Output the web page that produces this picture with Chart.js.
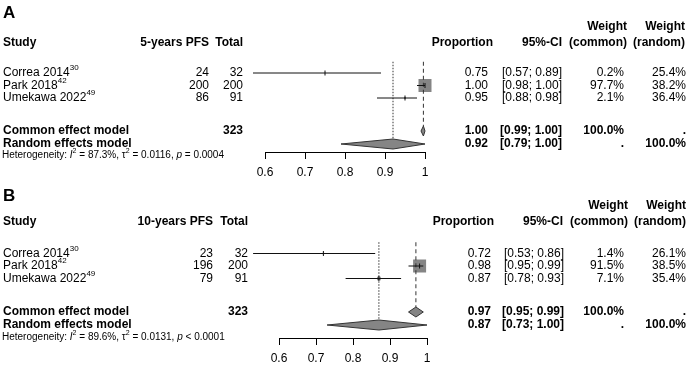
<!DOCTYPE html>
<html>
<head>
<meta charset="utf-8">
<script src="https://cdn.jsdelivr.net/npm/chart.js@4.4.1/dist/chart.umd.min.js"></script>
<style>
  body { margin: 0; background: #fff; }
  canvas { position: absolute; left: 0; }
  #chartA { top: 0; }
  #chartB { top: 183px; }
</style>
</head>
<body>
<canvas id="chartA" width="688" height="183"></canvas>
<canvas id="chartB" width="688" height="183"></canvas>
<script>
// study level data
const studyNames = ["Correa 2014", "Park 2018", "Umekawa 2022"];
const studyRefs = ["30", "42", "49"];
const totals = [32, 200, 91];
const xTicks = [0.6, 0.7, 0.8, 0.9, 1];

// 5-years PFS
const events5 = [24, 200, 86];
const prop5 = [0.75, 1.0, 0.95];
const lower5 = [0.57, 0.98, 0.88];
const upper5 = [0.89, 1.0, 0.98];
const wCommon5 = [0.2, 97.7, 2.1];
const wRandom5 = [25.4, 38.2, 36.4];
const common5 = [0.996, 0.99, 1.0]; // estimate, lower, upper
const random5 = [0.92, 0.79, 1.0];
const het5 = ["87.3%", "0.0116", "= 0.0004"];

// 10-years PFS
const events10 = [23, 196, 79];
const prop10 = [0.72, 0.98, 0.87];
const lower10 = [0.53, 0.95, 0.78];
const upper10 = [0.86, 0.99, 0.93];
const wCommon10 = [1.4, 91.5, 7.1];
const wRandom10 = [26.1, 38.5, 35.4];
const common10 = [0.97, 0.95, 0.99];
const random10 = [0.87, 0.73, 1.0];
const het10 = ["89.6%", "0.0131", "< 0.0001"];

const FONT = '"Liberation Sans", Arial, sans-serif';

const panels = [
  {
    id: "chartA", title: "A", eventsLabel: "5-years PFS",
    events: events5, props: prop5, lower: lower5, upper: upper5,
    wCommon: wCommon5, wRandom: wRandom5, common: common5, random: random5, het: het5,
    yMin: -4.84, yMax: 7.32, axisH: 31, tickPad: 6,
    rows: { title: -3.8, head1: -2.7, head2: -1.45, studies: [1, 2, 3], common: 5.64, random: 6.68, het: 7.6, top: 0.1 },
    cols: { ev: 209, tot: 243, prop: 488, propH: 493, ci: 562, ciH: 562, wc: 624, wcH: 627, wr: 686, wrH: 685 },
    pad: { left: 265, right: 263 },
  },
  {
    id: "chartB", title: "B", eventsLabel: "10-years PFS",
    events: events10, props: prop10, lower: lower10, upper: upper10,
    wCommon: wCommon10, wRandom: wRandom10, common: common10, random: random10, het: het10,
    yMin: -4.64, yMax: 7.76, axisH: 28, tickPad: 6,
    rows: { title: -3.6, head1: -2.8, head2: -1.52, studies: [1, 2, 3], common: 5.68, random: 6.72, het: 7.7, top: 0.1 },
    cols: { ev: 213, tot: 248, prop: 491, propH: 494, ci: 564, ciH: 563, wc: 624, wcH: 628, wr: 686, wrH: 686 },
    pad: { left: 279, right: 261 },
  },
];

function drawRich(ctx, segs, x, y, size, align) {
  const fontFor = (s) => {
    if (s.sup) return `${s.bold ? "bold " : ""}${Math.round(size * 0.68)}px ${FONT}`;
    return `${s.italic ? "italic " : ""}${s.bold ? "bold " : ""}${size}px ${FONT}`;
  };
  let total = 0;
  segs.forEach((s) => { ctx.font = fontFor(s); total += ctx.measureText(s.t).width; });
  let cx = align === "right" ? x - total : x;
  ctx.textAlign = "left";
  segs.forEach((s) => {
    ctx.font = fontFor(s);
    ctx.fillText(s.t, cx, s.sup ? y - size * 0.42 : y);
    cx += ctx.measureText(s.t).width;
  });
}

function textPlugin(p) {
  return {
    id: "forestText",
    afterDraw(chart) {
      const ctx = chart.ctx;
      const y = (r) => chart.scales.y.getPixelForValue(r);
      const c = p.cols;
      const put = (t, x, r, align, bold, size) => {
        ctx.font = `${bold ? "bold " : ""}${size || 12}px ${FONT}`;
        ctx.textAlign = align;
        ctx.fillText(t, x, y(r));
      };
      ctx.save();
      ctx.fillStyle = "#000";
      ctx.textBaseline = "middle";

      put(p.title, 3, p.rows.title, "left", true, 17);
      put("Weight", c.wcH, p.rows.head1, "right", true);
      put("Weight", c.wrH, p.rows.head1, "right", true);
      put("Study", 3, p.rows.head2, "left", true);
      put(p.eventsLabel, c.ev, p.rows.head2, "right", true);
      put("Total", c.tot, p.rows.head2, "right", true);
      put("Proportion", c.propH, p.rows.head2, "right", true);
      put("95%-CI", c.ciH, p.rows.head2, "right", true);
      put("(common)", c.wcH, p.rows.head2, "right", true);
      put("(random)", c.wrH, p.rows.head2, "right", true);

      studyNames.forEach((name, i) => {
        const r = p.rows.studies[i];
        drawRich(ctx, [{ t: name }, { t: studyRefs[i], sup: true }], 3, y(r), 12, "left");
        put(String(p.events[i]), c.ev, r, "right");
        put(String(totals[i]), c.tot, r, "right");
        put(p.props[i].toFixed(2), c.prop, r, "right");
        put(`[${p.lower[i].toFixed(2)}; ${p.upper[i].toFixed(2)}]`, c.ci, r, "right");
        put(`${p.wCommon[i].toFixed(1)}%`, c.wc, r, "right");
        put(`${p.wRandom[i].toFixed(1)}%`, c.wr, r, "right");
      });

      const n = totals.reduce((s, v) => s + v, 0);
      const pooled = [
        ["Common effect model", p.common, p.rows.common, "100.0%", "."],
        ["Random effects model", p.random, p.rows.random, ".", "100.0%"],
      ];
      pooled.forEach(([label, v, r, wc, wr], k) => {
        put(label, 3, r, "left", true);
        if (k === 0) put(String(n), c.tot, r, "right", true);
        put(v[0].toFixed(2), c.prop, r, "right", true);
        put(`[${v[1].toFixed(2)}; ${v[2].toFixed(2)}]`, c.ci, r, "right", true);
        put(wc, c.wc, r, "right", true);
        put(wr, c.wr, r, "right", true);
      });

      drawRich(ctx, [
        { t: "Heterogeneity: " }, { t: "I", italic: true }, { t: "2", sup: true },
        { t: ` = ${p.het[0]}, τ` }, { t: "2", sup: true },
        { t: ` = ${p.het[1]}, ` }, { t: "p", italic: true }, { t: ` ${p.het[2]}` },
      ], 2, y(p.rows.het), 10, "left");
      ctx.restore();
    },
  };
}

function makePanel(p) {
  const maxW = Math.max(...p.wCommon);
  const h = 0.4;
  const datasets = [];

  // squares sized by common-effect weight
  datasets.push({
    type: "scatter", order: 6, clip: false,
    data: p.props.map((v, i) => ({ x: v, y: p.rows.studies[i] })),
    pointStyle: "rect",
    pointRadius: p.wCommon.map((w) => (13 * Math.sqrt(w / maxW)) / Math.SQRT2),
    backgroundColor: "#858585", borderWidth: 0,
  });

  // pooled diamonds
  [[p.common, p.rows.common], [p.random, p.rows.random]].forEach(([v, r]) => {
    datasets.push({
      type: "line", order: 5, clip: false, fill: "shape",
      data: [
        { x: v[1], y: r }, { x: v[0], y: r - h }, { x: v[2], y: r },
        { x: v[0], y: r + h }, { x: v[1], y: r },
      ],
      backgroundColor: "#858585", borderColor: "#333", borderWidth: 1,
      pointRadius: 0, tension: 0,
    });
  });

  // reference lines at pooled estimates
  datasets.push({
    type: "line", order: 4, clip: false,
    data: [{ x: p.common[0], y: p.rows.top }, { x: p.common[0], y: p.rows.common - h }],
    borderColor: "#333", borderWidth: 1, borderDash: [4, 3], pointRadius: 0,
  });
  datasets.push({
    type: "line", order: 4, clip: false,
    data: [{ x: p.random[0], y: p.rows.top }, { x: p.random[0], y: p.rows.random - h }],
    borderColor: "#333", borderWidth: 1, borderDash: [1.5, 1.5], pointRadius: 0,
  });

  // confidence intervals
  p.props.forEach((v, i) => {
    datasets.push({
      type: "line", order: 3, clip: false,
      data: [{ x: p.lower[i], y: p.rows.studies[i] }, { x: p.upper[i], y: p.rows.studies[i] }],
      borderColor: "#111", borderWidth: 1, pointRadius: 0,
    });
  });

  // point estimate ticks
  datasets.push({
    type: "scatter", order: 2, clip: false,
    data: p.props.map((v, i) => ({ x: v, y: p.rows.studies[i] })),
    pointStyle: "line", rotation: 90, pointRadius: 2.5,
    borderColor: "#111", borderWidth: 1,
  });

  new Chart(document.getElementById(p.id), {
    type: "scatter",
    data: { datasets },
    options: {
      responsive: false,
      animation: false,
      devicePixelRatio: 1,
      layout: { autoPadding: false, padding: { left: p.pad.left, right: p.pad.right, top: 0, bottom: 0 } },
      plugins: { legend: { display: false }, tooltip: { enabled: false } },
      scales: {
        x: {
          type: "linear", min: 0.6, max: 1,
          afterBuildTicks: (s) => { s.ticks = xTicks.map((v) => ({ value: v })); },
          afterFit: (s) => { s.height = p.axisH; },
          grid: { display: true, drawOnChartArea: false, drawTicks: true, tickLength: 7, color: "#000", tickColor: "#000" },
          border: { display: true, color: "#000", width: 1 },
          ticks: {
            color: "#000", padding: p.tickPad, maxRotation: 0, autoSkip: false,
            font: { family: FONT, size: 12 },
            callback: (v) => String(v),
          },
        },
        y: { type: "linear", reverse: true, min: p.yMin, max: p.yMax, display: false },
      },
    },
    plugins: [textPlugin(p)],
  });
}

panels.forEach(makePanel);
</script>
</body>
</html>
